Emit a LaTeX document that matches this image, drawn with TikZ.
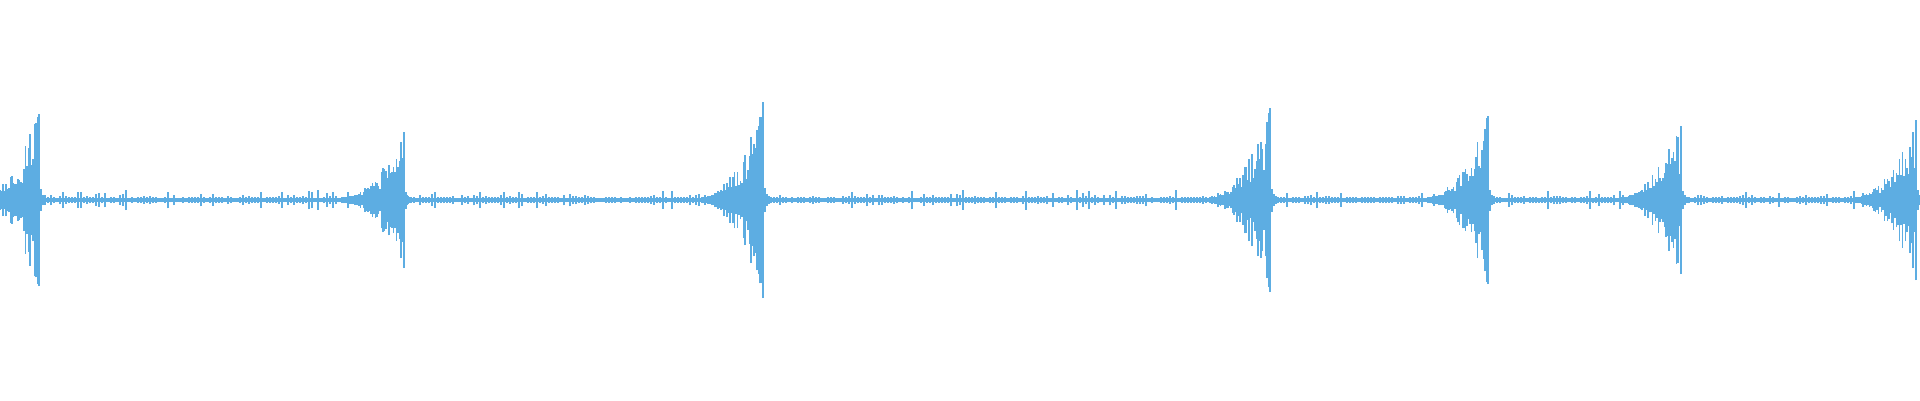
\documentclass[tikz,border=0pt]{standalone}
\definecolor{wv}{RGB}{93,173,226}
\begin{document}
\begin{tikzpicture}[x=1pt,y=1pt,wave/.style={draw=wv,line width=1.25pt}]
\useasboundingbox[fill=white] (0,0) rectangle (1920,400);
\fill[wv] (0,198) rectangle (1920,202);
\pgfmathsetseed{7}
\foreach \x in {0,3,...,1920}{
  \pgfmathsetmacro\h{2+1.5*rnd+7*rnd^7}
  \draw[wave] (\x,{200-\h}) -- (\x,{200+\h});
}
\foreach \p/\A in {39/86,404/68,763/98,1270/92,1488/84,1681/74,1916/80}{
  \fill[wv] ({\p-50},195) rectangle ({\p+4},205);
  \foreach \k in {0,1.5,...,60}{
    \pgfmathsetmacro\e{3+\A*(\k/60)^1.9*(0.3+0.7*rnd)}
    \draw[wave] ({\p-60+\k},{200-\e}) -- ({\p-60+\k},{200+\e});
  }
  \draw[wave] (\p,{200-\A}) -- (\p,{200+\A});
  \draw[wave] ({\p-3},{200-0.85*\A}) -- ({\p-3},{200+0.85*\A});
  \foreach \k in {2,4,6}{
    \pgfmathsetmacro\e{\A*0.25/\k}
    \draw[wave] ({\p+\k},{200-\e}) -- ({\p+\k},{200+\e});
  }
}
\end{tikzpicture}
\end{document}
